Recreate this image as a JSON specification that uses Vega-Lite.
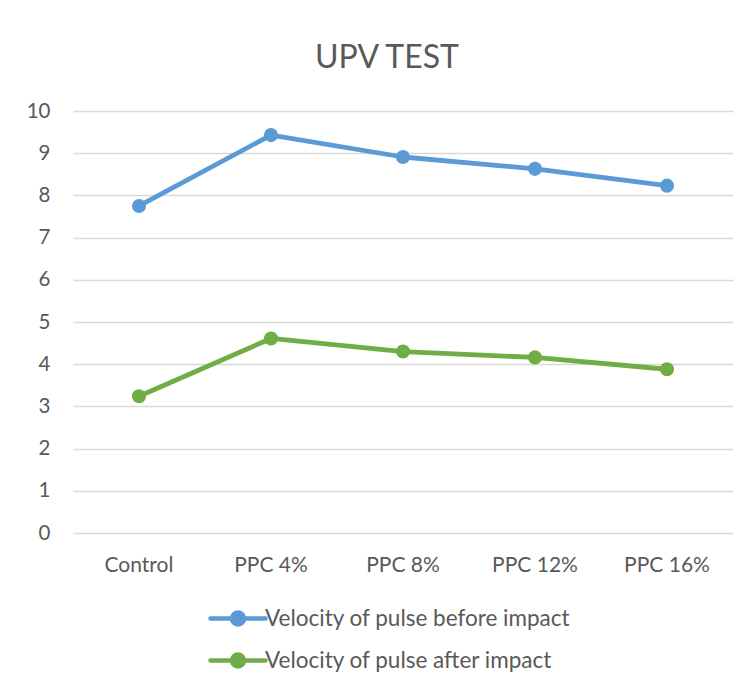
{
  "$schema": "https://vega.github.io/schema/vega-lite/v6.json",
  "autosize": {"type": "none"},
  "padding": {"left": 73, "top": 111, "right": 18, "bottom": 158},
  "width": 660,
  "height": 422,
  "background": "white",
  "title": {
    "text": "UPV TEST",
    "font": "Lato",
    "fontSize": 32,
    "fontWeight": "normal",
    "color": "#595959",
    "anchor": "middle",
    "dx": -16,
    "offset": 1,
    "baseline": "alphabetic"
  },
  "data": {
    "values": [
      {"category": "Control", "series": "Velocity of pulse before impact", "value": 7.75},
      {"category": "PPC 4%", "series": "Velocity of pulse before impact", "value": 9.43},
      {"category": "PPC 8%", "series": "Velocity of pulse before impact", "value": 8.91},
      {"category": "PPC 12%", "series": "Velocity of pulse before impact", "value": 8.63},
      {"category": "PPC 16%", "series": "Velocity of pulse before impact", "value": 8.23},
      {"category": "Control", "series": "Velocity of pulse after impact", "value": 3.24},
      {"category": "PPC 4%", "series": "Velocity of pulse after impact", "value": 4.61},
      {"category": "PPC 8%", "series": "Velocity of pulse after impact", "value": 4.30},
      {"category": "PPC 12%", "series": "Velocity of pulse after impact", "value": 4.16},
      {"category": "PPC 16%", "series": "Velocity of pulse after impact", "value": 3.88}
    ]
  },
  "encoding": {
    "x": {
      "field": "category",
      "type": "nominal",
      "sort": ["Control", "PPC 4%", "PPC 8%", "PPC 12%", "PPC 16%"],
      "scale": {"type": "band", "paddingInner": 0, "paddingOuter": 0},
      "axis": {
        "title": null,
        "labelAngle": 0,
        "domain": false,
        "ticks": false,
        "grid": false,
        "labelPadding": 21,
        "labelFont": "Lato",
        "labelFontSize": 21,
        "labelColor": "#595959"
      }
    },
    "y": {
      "field": "value",
      "type": "quantitative",
      "scale": {"domain": [0, 10], "nice": false},
      "axis": {
        "title": null,
        "values": [0, 1, 2, 3, 4, 5, 6, 7, 8, 9, 10],
        "domain": false,
        "ticks": false,
        "grid": true,
        "gridColor": "#D9D9D9",
        "gridWidth": 1.5,
        "labelPadding": 23,
        "labelFont": "Lato",
        "labelFontSize": 20.5,
        "labelColor": "#595959"
      }
    },
    "color": {
      "field": "series",
      "type": "nominal",
      "scale": {
        "domain": ["Velocity of pulse before impact", "Velocity of pulse after impact"],
        "range": ["#5B9BD5", "#70AD47"]
      },
      "legend": {
        "title": null,
        "orient": "none",
        "legendX": 142.5,
        "legendY": 485,
        "direction": "vertical",
        "columns": 1,
        "padding": 0,
        "rowPadding": 4,
        "symbolType": "M-1.375,0L1.375,0M-0.3,0A0.3,0.3,0,1,1,0.3,0A0.3,0.3,0,1,1,-0.3,0",
        "symbolSize": 1600,
        "symbolStrokeWidth": 4.5,
        "symbolOpacity": 1,
        "labelOffset": 4.5,
        "labelFont": "Lato",
        "labelFontSize": 22.5,
        "labelColor": "#595959",
        "labelLimit": 500,
        "encode": {
          "symbols": {
            "update": {
              "fill": {"scale": "color", "field": "value"},
              "stroke": {"scale": "color", "field": "value"},
              "strokeCap": {"value": "round"}
            }
          }
        }
      }
    }
  },
  "layer": [
    {
      "mark": {"type": "line", "strokeWidth": 4.8, "strokeCap": "round", "strokeJoin": "round"}
    },
    {
      "mark": {"type": "point", "filled": true, "size": 200, "opacity": 1, "shape": "circle"}
    }
  ],
  "config": {
    "view": {"stroke": null}
  }
}
